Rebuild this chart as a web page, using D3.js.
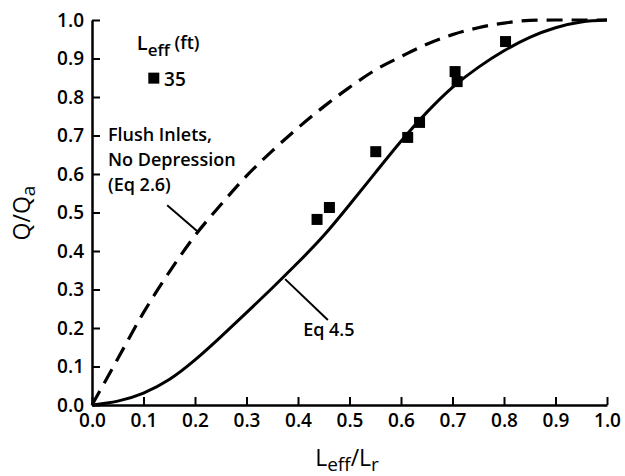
<!DOCTYPE html>
<html>
<head>
<meta charset="utf-8">
<script src="https://cdn.jsdelivr.net/npm/d3@7"></script>
<style>
  html, body { margin: 0; padding: 0; background: #fff; }
  svg { display: block; }
  text { font-family: "Open Sans", "DejaVu Sans", sans-serif; fill: #000; }
</style>
</head>
<body>
<svg id="chart" width="625" height="476"></svg>
<script>
// ---- data ----
const xTicks = [0, 0.1, 0.2, 0.3, 0.4, 0.5, 0.6, 0.7, 0.8, 0.9, 1.0];
const yTicks = [0, 0.1, 0.2, 0.3, 0.4, 0.5, 0.6, 0.7, 0.8, 0.9, 1.0];

// Flush inlets, no depression (Eq 2.6) - dashed curve
const flushX = [0, 0.05, 0.1, 0.15, 0.2, 0.25, 0.3, 0.35, 0.4, 0.45, 0.5, 0.55, 0.6, 0.65, 0.7, 0.75, 0.8, 0.85, 0.9, 0.95, 1.0];
const flushY = [0, 0.12, 0.24, 0.345, 0.44, 0.52, 0.595, 0.66, 0.72, 0.775, 0.825, 0.87, 0.905, 0.937, 0.962, 0.98, 0.992, 0.999, 1.0, 1.0, 1.0];

// Eq 4.5 - solid curve
const eqX = [0, 0.05, 0.1, 0.15, 0.2, 0.25, 0.3, 0.35, 0.4, 0.45, 0.5, 0.55, 0.6, 0.65, 0.7, 0.75, 0.8, 0.85, 0.9, 0.95, 1.0];
const eqY = [0, 0.01, 0.031, 0.066, 0.117, 0.177, 0.24, 0.304, 0.37, 0.44, 0.52, 0.603, 0.685, 0.76, 0.825, 0.877, 0.92, 0.955, 0.98, 0.995, 1.0];

// Measured points, Leff = 35 ft
const obsX = [0.437, 0.461, 0.551, 0.613, 0.636, 0.705, 0.709, 0.803];
const obsY = [0.482, 0.513, 0.658, 0.695, 0.734, 0.866, 0.840, 0.944];

// ---- layout ----
const svg = d3.select("#chart");
const x = d3.scaleLinear().domain([0, 1]).range([92, 607]);
const y = d3.scaleLinear().domain([0, 1]).range([405, 20]);
const fmt = d3.format(".1f");

// axes
const xAxis = d3.axisBottom(x).tickValues(xTicks).tickFormat(fmt)
  .tickSizeInner(-8).tickSizeOuter(0).tickPadding(9);
const yAxis = d3.axisLeft(y).tickValues(yTicks).tickFormat(fmt)
  .tickSizeInner(-8).tickSizeOuter(0).tickPadding(8);

const gx = svg.append("g").attr("transform", `translate(0,${y(0)})`).call(xAxis);
const gy = svg.append("g").attr("transform", `translate(${x(0)},0)`).call(yAxis);
[gx, gy].forEach(g => {
  g.selectAll("path.domain").attr("stroke", "#000").attr("stroke-width", 2.5);
  g.selectAll(".tick line").attr("stroke", "#000").attr("stroke-width", 2);
  g.selectAll(".tick text")
    .style("font-family", '"Open Sans", sans-serif')
    .style("font-size", "19px").style("font-weight", "600").attr("fill", "#000");
});

// curves
const dashedLine = d3.line().x(d => x(d[0])).y(d => y(d[1])).curve(d3.curveMonotoneX);
const solidLine = d3.line().x(d => x(d[0])).y(d => y(d[1])).curve(d3.curveNatural);
svg.append("path")
  .datum(flushX.map((v, i) => [v, flushY[i]]))
  .attr("d", dashedLine).attr("fill", "none").attr("stroke", "#000")
  .attr("stroke-width", 3.2).attr("stroke-dasharray", "16,9");
svg.append("path")
  .datum(eqX.map((v, i) => [v, eqY[i]]))
  .attr("d", solidLine).attr("fill", "none").attr("stroke", "#000")
  .attr("stroke-width", 3);

// points
const sq = 11;
svg.append("g").selectAll("rect")
  .data(obsX.map((v, i) => [v, obsY[i]]))
  .join("rect")
  .attr("x", d => x(d[0]) - sq / 2).attr("y", d => y(d[1]) - sq / 2)
  .attr("width", sq).attr("height", sq).attr("fill", "#000");

// legend
const leg = svg.append("text").attr("x", x(0.087)).attr("y", y(0.922))
  .style("font-weight", "600");
leg.append("tspan").text("L").style("font-size", "20px");
leg.append("tspan").text("eff").attr("dy", 6).style("font-size", "17px");
leg.append("tspan").text(" (ft)").attr("dy", -7).style("font-size", "18px");
svg.append("rect").attr("x", x(0.12) - 5.5).attr("y", y(0.849) - 5.5)
  .attr("width", 11).attr("height", 11).attr("fill", "#000");
svg.append("text").attr("x", x(0.14)).attr("y", y(0.828))
  .style("font-size", "19px").style("font-weight", "600").text("35");

// annotations
const flushLines = ["Flush Inlets,", "No Depression", "(Eq 2.6)"];
const flushBase = [0.686, 0.621, 0.556];
flushLines.forEach((t, i) => {
  svg.append("text").attr("x", x(0.031)).attr("y", y(flushBase[i]))
    .style("font-size", "18px").style("font-weight", "600").text(t);
});
svg.append("line")
  .attr("x1", x(0.146)).attr("y1", y(0.519))
  .attr("x2", x(0.204)).attr("y2", y(0.452))
  .attr("stroke", "#000").attr("stroke-width", 2);

svg.append("line")
  .attr("x1", x(0.375)).attr("y1", y(0.327))
  .attr("x2", x(0.458)).attr("y2", y(0.221))
  .attr("stroke", "#000").attr("stroke-width", 2);
svg.append("text").attr("x", x(0.41)).attr("y", y(0.178))
  .style("font-size", "18px").style("font-weight", "600").text("Eq 4.5");

// axis titles
const xt = svg.append("text").attr("x", 347).attr("y", 466)
  .attr("text-anchor", "middle").style("font-size", "23px");
xt.append("tspan").text("L");
xt.append("tspan").text("eff").attr("dy", 5).style("font-size", "19px");
xt.append("tspan").text("/L").attr("dy", -5);
xt.append("tspan").text("r").attr("dy", 5).style("font-size", "19px");

const yt = svg.append("text")
  .attr("transform", "translate(30,213) rotate(-90)")
  .attr("text-anchor", "middle").style("font-size", "23px");
yt.append("tspan").text("Q/Q");
yt.append("tspan").text("a").attr("dy", 5).style("font-size", "19px");
</script>
</body>
</html>
